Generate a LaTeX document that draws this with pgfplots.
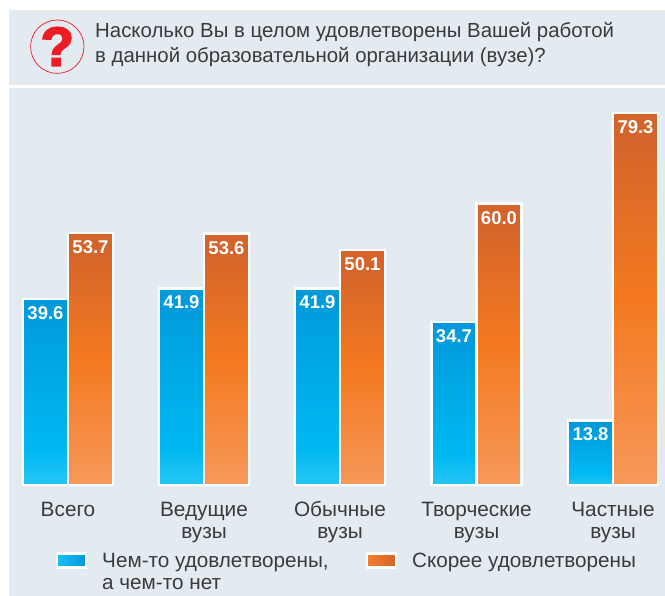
\documentclass[border=0pt]{standalone}
\usepackage{fontspec}
\setmainfont{Liberation Sans}
\newfontface\qface{Liberation Sans Bold}[FakeBold=3]
\usepackage{pgfplots}
\pgfplotsset{compat=1.18}
\definecolor{panel}{HTML}{E3EBF1}
\definecolor{txt}{HTML}{3A3A3C}
\definecolor{qred}{HTML}{ED1C24}
\definecolor{bt}{HTML}{0098DA}
\definecolor{bm}{HTML}{00B9F2}
\definecolor{bb}{HTML}{28C6F5}
\definecolor{ot}{HTML}{D4642A}
\definecolor{om}{HTML}{F47920}
\definecolor{ob}{HTML}{F7985A}
\pgfdeclareverticalshading{bluebar}{100bp}{color(0bp)=(bb);color(25bp)=(bb);color(34bp)=(bm);color(75bp)=(bt);color(100bp)=(bt)}
\pgfdeclareverticalshading{orangebar}{100bp}{color(0bp)=(ob);color(25bp)=(ob);color(50bp)=(om);color(72bp)=(ot);color(100bp)=(ot)}
\pgfplotsset{
  bluebarstyle/.style={ybar,bar shift=-22.5pt,draw=white,line width=2.5pt,shading=bluebar,mark=none,
    every node near coord/.append style={xshift=-22.5pt}},
  orangebarstyle/.style={ybar,bar shift=22.5pt,draw=white,line width=2.5pt,shading=orangebar,mark=none,
    every node near coord/.append style={xshift=22.5pt}},
}
\begin{document}
\begin{tikzpicture}[x=1pt,y=1pt]
\useasboundingbox (0,-111) rectangle (665,485);
\fill[white] (0,-111) rectangle (665,485);
\fill[panel] (9,475) rectangle (665,400);
\fill[panel] (9,397) rectangle (665,-111);
\draw[qred,line width=0.7pt] (57.3,438.3) circle (26.7);
\node[text=qred,font=\fontsize{55}{55}\selectfont\qface,inner sep=0pt] at (57.3,438.5) {?};
\node[anchor=north west,align=left,text=txt,font=\fontsize{20.4}{25.5}\selectfont,inner sep=0pt] at (95,463) {Насколько Вы в целом удовлетворены Вашей работой\\в данной образовательной организации (вузе)?};
\begin{axis}[
  at={(0,0)},anchor=south west,
  scale only axis,width=665pt,height=485pt,
  xmin=0,xmax=665,ymin=0,ymax=103.4,
  clip=false,
  axis line style={draw=none},
  tick style={draw=none},
  ytick=\empty,
  xtick={68,204,340,476.5,613},
  xticklabels={\rule{0pt}{16pt}Всего,{\rule{0pt}{16pt}Ведущие\\вузы},{\rule{0pt}{16pt}Обычные\\вузы},{\rule{0pt}{16pt}Творческие\\вузы},{\rule{0pt}{16pt}Частные\\вузы}},
  xticklabel style={align=center,text=txt,font=\fontsize{20.8}{22}\selectfont,yshift=-12pt},
  bar width=45pt,
  nodes near coords,
  /pgf/number format/.cd,fixed,fixed zerofill,precision=1,assume math mode=true,1000 sep={},
  /pgfplots/.cd,
  every node near coord/.append style={anchor=north,text=white,yshift=-3pt,font=\fontsize{18.5}{18.5}\selectfont\bfseries},
  legend columns=2,
  legend style={draw=none,fill=none,at={(52.5pt,-65pt)},anchor=north west,
    /tikz/every odd column/.append style={column sep=15pt},
    /tikz/every even column/.append style={column sep=37pt},
    nodes={text=txt,font=\fontsize{20.7}{22}\selectfont,inner sep=0pt,anchor=base west}},
  legend cell align=left,
]
\addplot+[bluebarstyle,
  legend image code/.code={\draw[white,line width=2.5pt,left color=bb!60!bm,right color=bt] (0,0) rectangle (29pt,14pt);}]
 coordinates {(68,39.6)};
\addlegendentry{\vtop{\hbox{Чем-то удовлетворены,}\hbox{а чем-то нет}}}
\addplot+[orangebarstyle,
  legend image code/.code={\draw[white,line width=2.5pt,left color=om!80!ob,right color=ot] (0,0) rectangle (29pt,14pt);}]
 coordinates {(68,53.7)};
\addlegendentry{Скорее удовлетворены}
\addplot+[bluebarstyle,forget plot] coordinates {(204,41.9)};
\addplot+[orangebarstyle,forget plot] coordinates {(204,53.6)};
\addplot+[bluebarstyle,forget plot] coordinates {(340,41.9)};
\addplot+[orangebarstyle,forget plot] coordinates {(340,50.1)};
\addplot+[bluebarstyle,forget plot] coordinates {(476.5,34.7)};
\addplot+[orangebarstyle,forget plot] coordinates {(476.5,60.0)};
\addplot+[bluebarstyle,forget plot] coordinates {(613,13.8)};
\addplot+[orangebarstyle,forget plot] coordinates {(613,79.3)};
\end{axis}
\end{tikzpicture}
\end{document}
